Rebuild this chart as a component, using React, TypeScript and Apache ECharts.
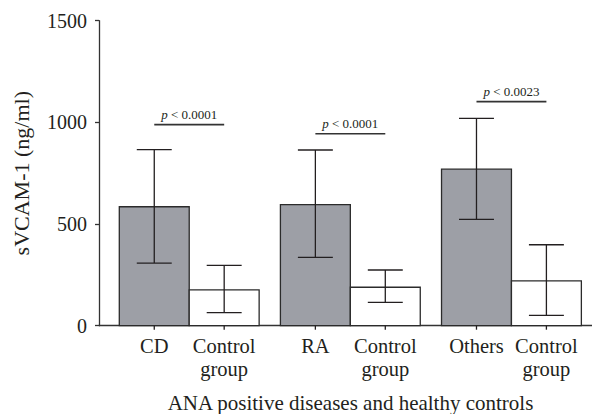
import React, { useEffect, useRef } from "react";
import * as echarts from "echarts";

const categories = ["CD", "RA", "Others"];
const controlLabel = "Control\ngroup";
const diseaseMean = [585, 595, 770];
const diseaseLow = [308, 336, 523];
const diseaseHigh = [866, 864, 1020];
const controlMean = [176, 189, 220];
const controlLow = [64, 115, 51];
const controlHigh = [297, 274, 398];
const pValues = ["< 0.0001", "< 0.0001", "< 0.0023"];
const pLineLevel = [989, 944, 1102];
const yTicks = [0, 500, 1000, 1500];

const FONT = '"Liberation Serif", "Times New Roman", serif';
const INK = "#231f20";

export default function App() {
  const ref = useRef<HTMLDivElement>(null);
  useEffect(() => {
    if (!ref.current) return;
    const chart = echarts.init(ref.current, null, { renderer: "svg" });
    const data = categories.map((c, i) => [
      i,
      diseaseMean[i],
      diseaseLow[i],
      diseaseHigh[i],
      controlMean[i],
      controlLow[i],
      controlHigh[i],
      pLineLevel[i],
    ]);
    const renderItem = (params: any, api: any) => {
      const i = params.dataIndex;
      const g = api.value(0);
      const unit = api.size([1, 0])[0];
      const bw = unit * 0.434;
      const base = api.coord([g, 0]);
      const cx = base[0];
      const yz = base[1];
      const Y = (v: number) => api.coord([g, v])[1];
      const capW = bw * 0.5;
      const lineStyle = { stroke: INK, lineWidth: 1.3 };
      const children: any[] = [];
      const dC = cx - bw / 2;
      const cC = cx + bw / 2;
      children.push({
        type: "rect",
        shape: { x: cx - bw, y: Y(api.value(1)), width: bw, height: yz - Y(api.value(1)) },
        style: { fill: "#9d9fa6", stroke: "#2b2b2b", lineWidth: 1.3 },
      });
      children.push({
        type: "rect",
        shape: { x: cx, y: Y(api.value(4)), width: bw, height: yz - Y(api.value(4)) },
        style: { fill: "#ffffff", stroke: "#2b2b2b", lineWidth: 1.3 },
      });
      const err = (x: number, lo: number, hi: number) => {
        children.push({ type: "line", shape: { x1: x, y1: Y(lo), x2: x, y2: Y(hi) }, style: lineStyle });
        children.push({ type: "line", shape: { x1: x - capW / 2, y1: Y(lo), x2: x + capW / 2, y2: Y(lo) }, style: lineStyle });
        children.push({ type: "line", shape: { x1: x - capW / 2, y1: Y(hi), x2: x + capW / 2, y2: Y(hi) }, style: lineStyle });
      };
      err(dC, api.value(2), api.value(3));
      err(cC, api.value(5), api.value(6));
      [dC, cC].forEach((x) => {
        children.push({ type: "line", shape: { x1: x, y1: yz, x2: x, y2: yz + 4 }, style: lineStyle });
      });
      children.push({
        type: "text",
        style: { text: categories[i], x: dC, y: yz + 9, align: "center", verticalAlign: "top", font: `20.5px ${FONT}`, fill: INK, lineHeight: 23 },
      });
      children.push({
        type: "text",
        style: { text: controlLabel, x: cC, y: yz + 9, align: "center", verticalAlign: "top", font: `20.5px ${FONT}`, fill: INK, lineHeight: 23 },
      });
      const py = Y(api.value(7));
      children.push({ type: "line", shape: { x1: dC, y1: py, x2: cC, y2: py }, style: { stroke: "#333", lineWidth: 1.6 } });
      children.push({
        type: "text",
        style: {
          text: `{i|p} ${pValues[i]}`,
          x: (dC + cC) / 2,
          y: py - 4,
          align: "center",
          verticalAlign: "bottom",
          font: `13px ${FONT}`,
          fill: INK,
          rich: { i: { fontStyle: "italic", fontSize: 13, fontFamily: FONT, fill: INK } },
        },
      });
      return { type: "group", children };
    };
    chart.setOption({
      animation: false,
      grid: { left: 99, right: 0, top: 20.7, bottom: 88.3, containLabel: false, outerBoundsMode: "none" },
      xAxis: {
        type: "value",
        min: -0.56,
        max: 2.5,
        axisLine: { show: true, onZero: false, lineStyle: { color: "#333", width: 1.3 } },
        axisTick: { show: false },
        axisLabel: { show: false },
        splitLine: { show: false },
        name: "ANA positive diseases and healthy controls",
        nameLocation: "middle",
        nameGap: 67,
        nameTextStyle: { fontFamily: FONT, fontSize: 21, color: INK, padding: [0, 0, 0, 10] },
      },
      yAxis: {
        type: "value",
        min: yTicks[0],
        max: yTicks[yTicks.length - 1],
        interval: 500,
        axisLine: { show: true, onZero: false, lineStyle: { color: "#333", width: 1.3 } },
        axisTick: { show: true, length: 4, lineStyle: { color: "#333", width: 1.3 } },
        axisLabel: { fontFamily: FONT, fontSize: 20, color: INK, margin: 12, formatter: (v: number) => String(v) },
        splitLine: { show: false },
        name: "sVCAM-1 (ng/ml)",
        nameLocation: "middle",
        nameGap: 67,
        nameTextStyle: { fontFamily: FONT, fontSize: 22, color: INK },
      },
      series: [
        {
          type: "custom",
          renderItem,
          data,
          encode: { x: 0, y: 1 },
          clip: false,
        },
      ],
    });
    return () => chart.dispose();
  }, []);
  return <div ref={ref} style={{ width: 592, height: 414, position: "absolute", left: 0, top: 0 }} />;
}
